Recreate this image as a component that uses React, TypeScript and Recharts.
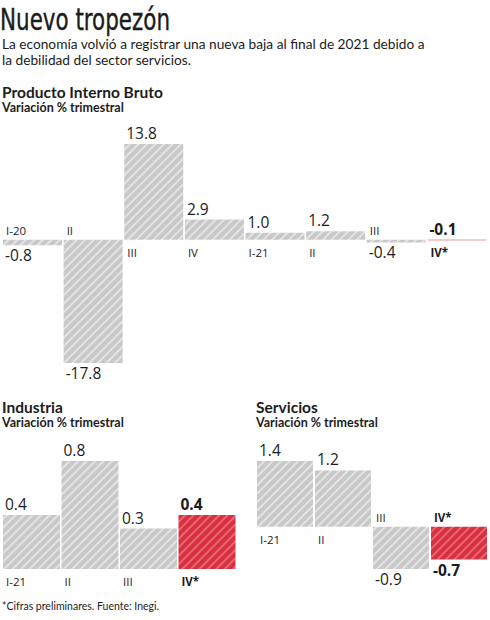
import { BarChart, Bar, XAxis, YAxis, Cell, LabelList } from "recharts";

// PIB, variación % trimestral
const pibQuarters = ["I-20", "II", "III", "IV", "I-21", "II", "III", "IV*"];
const pibValues = [-0.8, -17.8, 13.8, 2.9, 1.0, 1.2, -0.4, -0.1];

// Industria
const indQuarters = ["I-21", "II", "III", "IV*"];
const indValues = [0.4, 0.8, 0.3, 0.4];

// Servicios
const servQuarters = ["I-21", "II", "III", "IV*"];
const servValues = [1.4, 1.2, -0.9, -0.7];

const GRAY = "#c8c8c8";
const GRAY_LINE = "#f2f2f2";
const RED = "#d8303f";
const RED_LINE = "#f28490";
const INK = "#1c1c1c";
const LABEL_FONT = "'Open Sans', sans-serif";
const HEAD_FONT = "Lato, 'Open Sans', sans-serif";

const Hatch = ({ id }: { id: string }) => (
  <defs>
    <pattern id={`${id}-gray`} patternUnits="userSpaceOnUse" width={6} height={6} patternTransform="rotate(45)">
      <rect width={6} height={6} fill={GRAY} />
      <line x1={1} y1={0} x2={1} y2={6} stroke={GRAY_LINE} strokeWidth={1.3} />
    </pattern>
    <pattern id={`${id}-red`} patternUnits="userSpaceOnUse" width={6} height={6} patternTransform="rotate(45)">
      <rect width={6} height={6} fill={RED} />
      <line x1={1} y1={0} x2={1} y2={6} stroke={RED_LINE} strokeWidth={1.3} />
    </pattern>
  </defs>
);

// value + quarter label, placed on opposite sides of the zero line
const makeLabel = (quarters: string[], values: number[], flipLast = false) => (props: any) => {
  const { x, y, width, height, index } = props;
  const v = values[index];
  const last = index === values.length - 1;
  const top = Math.min(y, y + height);
  const bottom = Math.max(y, y + height);
  const zero = v >= 0 ? bottom : top;
  const up = v >= 0 || (flipLast && last);
  const valueY = up ? top - 5 : bottom + 16;
  const catY = up ? zero + 17 : zero - 5;
  const weight = last ? 700 : 400;
  return (
    <g>
      <text x={x + 2} y={valueY} fontSize={15.5} fontFamily={LABEL_FONT} fontWeight={weight} fill={INK}>
        {v.toFixed(1)}
      </text>
      <text x={x + 3} y={catY} fontSize={11.5} fontFamily={LABEL_FONT} fontWeight={weight} fill={INK}>
        {quarters[index]}
      </text>
    </g>
  );
};

const SmallChart = ({
  id,
  quarters,
  values,
  domain,
  left,
  width,
}: {
  id: string;
  quarters: string[];
  values: number[];
  domain: [number, number];
  left: number;
  width: number;
}) => {
  const data = quarters.map((q, i) => ({ q, value: values[i] }));
  return (
    <div style={{ position: "absolute", left, top: 436 }}>
      <BarChart width={width} height={170} data={data} margin={{ top: 25, right: 0, bottom: 37, left: 2 }} barCategoryGap={1}>
        <Hatch id={id} />
        <XAxis dataKey="q" hide />
        <YAxis hide domain={domain} />
        <Bar dataKey="value" isAnimationActive={false}>
          {data.map((d, i) => (
            <Cell key={i} fill={i === data.length - 1 ? `url(#${id}-red)` : `url(#${id}-gray)`} />
          ))}
          <LabelList dataKey="value" content={makeLabel(quarters, values)} />
        </Bar>
      </BarChart>
    </div>
  );
};

export default function App() {
  const pibData = pibQuarters.map((q, i) => ({ q, value: pibValues[i] }));
  return (
    <div style={{ position: "relative", width: 490, height: 620, background: "#fff", overflow: "hidden" }}>
      <style>{"body{margin:0}"}</style>
      <svg width={490} height={620} style={{ position: "absolute", left: 0, top: 0 }}>
        <text
          x={0}
          y={30}
          fontSize={30}
          fontFamily="'Liberation Sans Narrow', 'DejaVu Sans Condensed', sans-serif"
          textLength={170}
          lengthAdjust="spacingAndGlyphs"
          fill={INK}
          stroke={INK}
          strokeWidth={0.4}
        >
          Nuevo tropezón
        </text>
        <text x={2} y={48.5} fontSize={13.7} fontFamily={HEAD_FONT} fill={INK}>
          La economía volvió a registrar una nueva baja al final de 2021 debido a
        </text>
        <text x={2} y={65} fontSize={13.7} fontFamily={HEAD_FONT} fill={INK}>
          la debilidad del sector servicios.
        </text>
        <text x={2} y={98} fontSize={15.5} fontWeight={700} fontFamily={HEAD_FONT} fill={INK}>
          Producto Interno Bruto
        </text>
        <text x={2} y={112} fontSize={12.5} fontWeight={700} fontFamily={HEAD_FONT} fill={INK}>
          Variación % trimestral
        </text>
        <text x={2} y={413} fontSize={15.5} fontWeight={700} fontFamily={HEAD_FONT} fill={INK}>
          Industria
        </text>
        <text x={2} y={427} fontSize={12.5} fontWeight={700} fontFamily={HEAD_FONT} fill={INK}>
          Variación % trimestral
        </text>
        <text x={256} y={413} fontSize={15.5} fontWeight={700} fontFamily={HEAD_FONT} fill={INK}>
          Servicios
        </text>
        <text x={256} y={427} fontSize={12.5} fontWeight={700} fontFamily={HEAD_FONT} fill={INK}>
          Variación % trimestral
        </text>
        <text x={2} y={610} fontSize={10.5} fontFamily={HEAD_FONT} fill={INK}>
          *Cifras preliminares. Fuente: Inegi.
        </text>
      </svg>

      <div style={{ position: "absolute", left: 0, top: 120 }}>
        <BarChart width={490} height={280} data={pibData} margin={{ top: 24, right: 3, bottom: 37, left: 2 }} barCategoryGap={1}>
          <Hatch id="pib" />
          <XAxis dataKey="q" hide />
          <YAxis hide domain={[-17.8, 13.8]} />
          <Bar dataKey="value" isAnimationActive={false}>
            {pibData.map((d, i) => (
              <Cell key={i} fill={i === pibData.length - 1 ? RED : "url(#pib-gray)"} />
            ))}
            <LabelList dataKey="value" content={makeLabel(pibQuarters, pibValues, true)} />
          </Bar>
        </BarChart>
      </div>

      <SmallChart id="ind" quarters={indQuarters} values={indValues} domain={[0, 0.8]} left={0} width={236} />
      <SmallChart id="serv" quarters={servQuarters} values={servValues} domain={[-0.9, 1.4]} left={254} width={234} />
    </div>
  );
}
